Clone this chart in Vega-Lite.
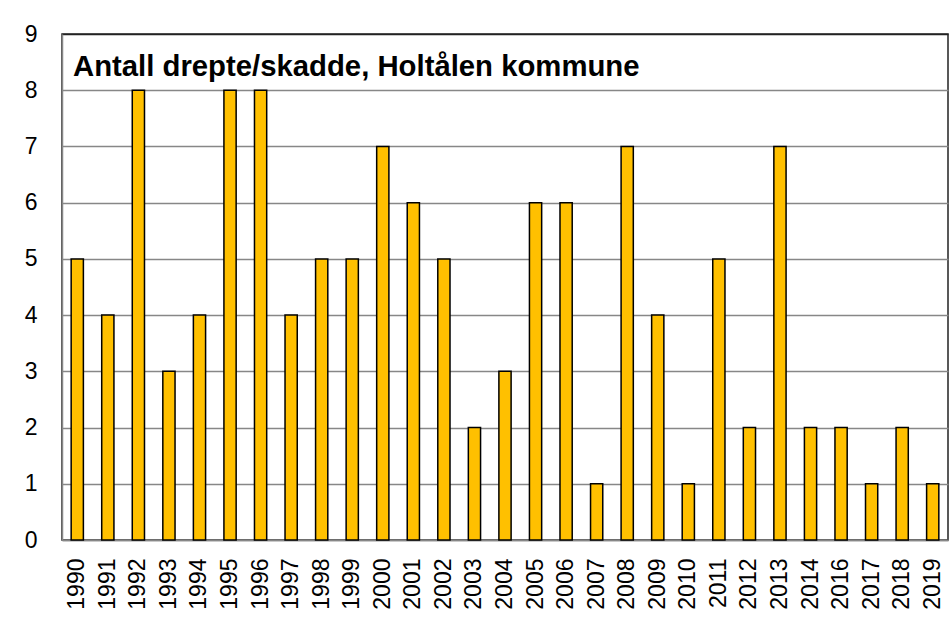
{
  "$schema": "https://vega.github.io/schema/vega-lite/v6.json",
  "width": 886,
  "height": 506,
  "autosize": {"type": "none"},
  "padding": {"left": 62, "top": 34, "right": 1, "bottom": 90},
  "background": "white",
  "config": {
    "font": "Liberation Sans",
    "view": {"stroke": "#222222", "strokeWidth": 1.5}
  },
  "title": {
    "text": "Antall drepte/skadde, Holtålen kommune",
    "anchor": "start",
    "frame": "group",
    "orient": "top",
    "offset": -39,
    "dx": 11,
    "dy": 43,
    "baseline": "alphabetic",
    "font": "Liberation Sans",
    "fontSize": 29.3,
    "fontWeight": "bold",
    "color": "black"
  },
  "data": {
    "values": [
      {"year": "1990", "value": 5},
      {"year": "1991", "value": 4},
      {"year": "1992", "value": 8},
      {"year": "1993", "value": 3},
      {"year": "1994", "value": 4},
      {"year": "1995", "value": 8},
      {"year": "1996", "value": 8},
      {"year": "1997", "value": 4},
      {"year": "1998", "value": 5},
      {"year": "1999", "value": 5},
      {"year": "2000", "value": 7},
      {"year": "2001", "value": 6},
      {"year": "2002", "value": 5},
      {"year": "2003", "value": 2},
      {"year": "2004", "value": 3},
      {"year": "2005", "value": 6},
      {"year": "2006", "value": 6},
      {"year": "2007", "value": 1},
      {"year": "2008", "value": 7},
      {"year": "2009", "value": 4},
      {"year": "2010", "value": 1},
      {"year": "2011", "value": 5},
      {"year": "2012", "value": 2},
      {"year": "2013", "value": 7},
      {"year": "2014", "value": 2},
      {"year": "2016", "value": 2},
      {"year": "2017", "value": 1},
      {"year": "2018", "value": 2},
      {"year": "2019", "value": 1}
    ]
  },
  "mark": {"type": "bar", "fill": "#FFC000", "stroke": "black", "strokeWidth": 1.5},
  "encoding": {
    "x": {
      "field": "year",
      "type": "ordinal",
      "scale": {"paddingInner": 0.6, "paddingOuter": 0.3},
      "axis": {
        "title": null,
        "labelAngle": -90,
        "labelFontSize": 23,
        "labelColor": "black",
        "labelPadding": 18,
        "ticks": false,
        "domainColor": "#878787",
        "domainWidth": 1.5,
        "grid": false
      }
    },
    "y": {
      "field": "value",
      "type": "quantitative",
      "scale": {"domain": [0, 9], "nice": false},
      "axis": {
        "title": null,
        "values": [0, 1, 2, 3, 4, 5, 6, 7, 8, 9],
        "labelFontSize": 23,
        "labelColor": "black",
        "labelPadding": 25,
        "ticks": false,
        "domainColor": "#878787",
        "domainWidth": 1.5,
        "grid": true,
        "gridColor": {"condition": {"test": "datum.value === 9", "value": "#222222"}, "value": "#878787"},
        "gridWidth": 1.5
      }
    }
  }
}
